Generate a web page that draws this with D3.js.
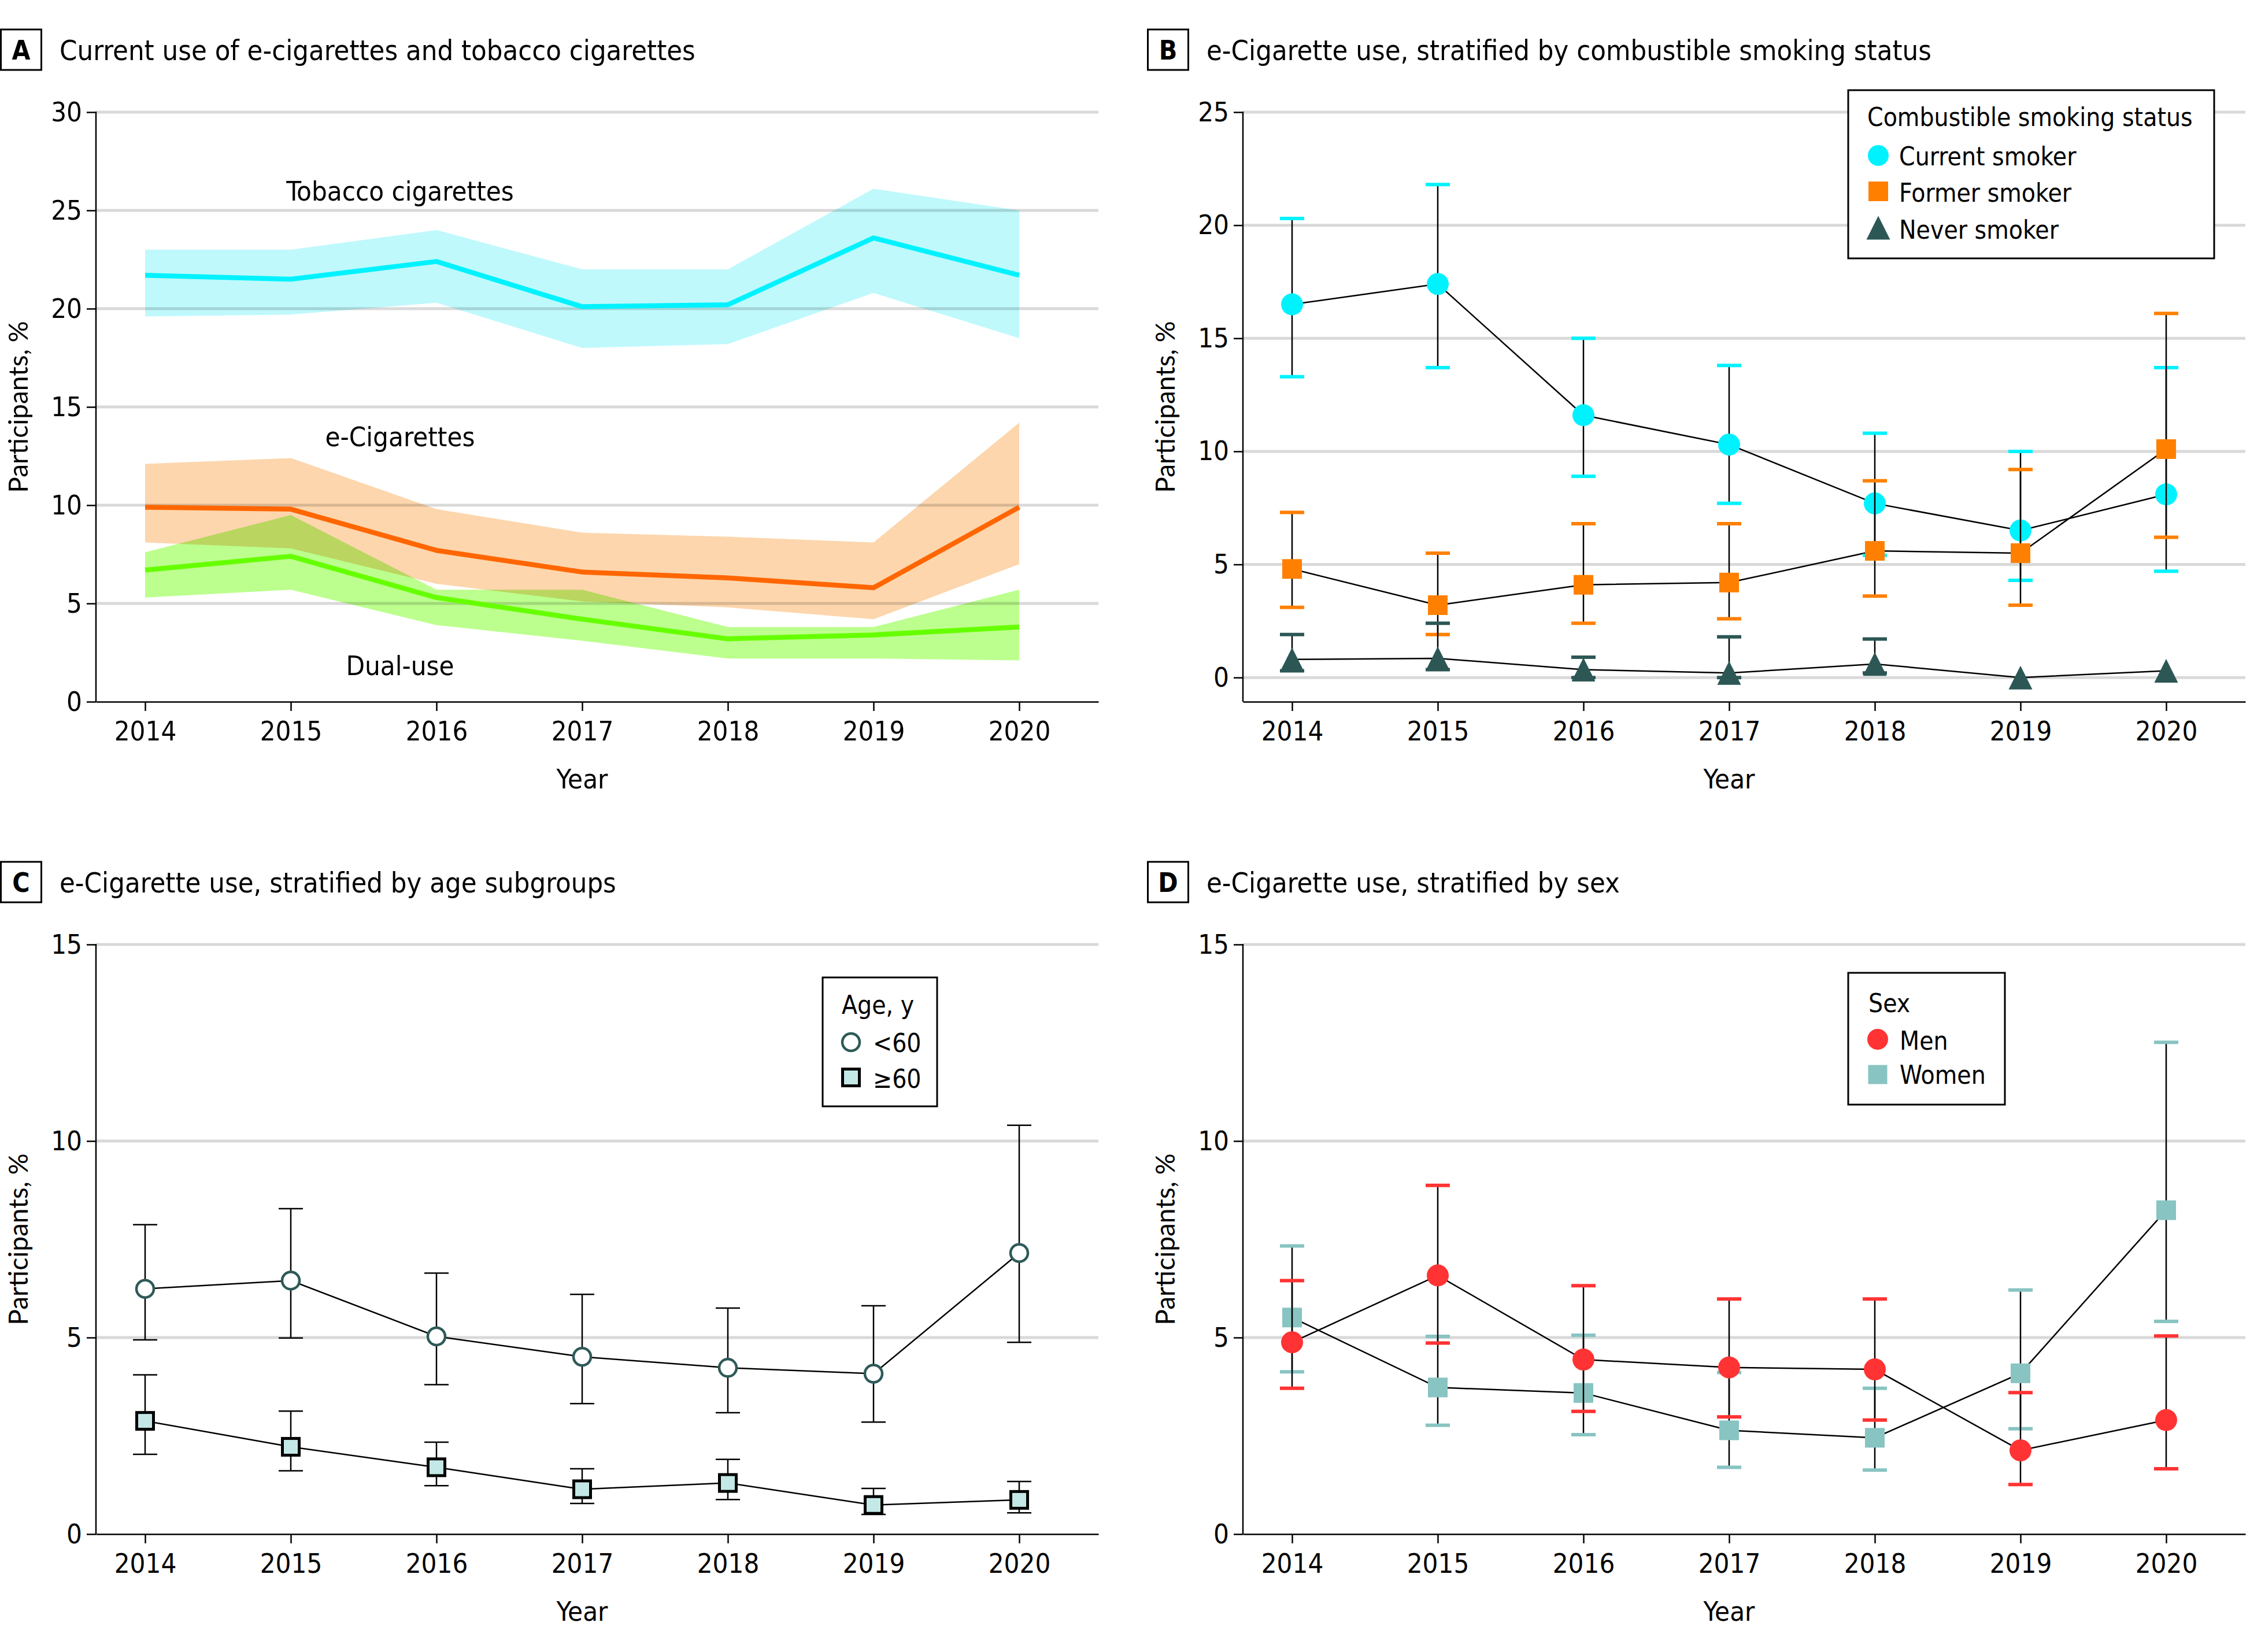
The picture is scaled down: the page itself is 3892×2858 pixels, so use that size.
<!DOCTYPE html>
<html>
<head>
<meta charset="utf-8">
<script src="https://cdn.jsdelivr.net/npm/d3@7"></script>
<style>
  body { margin: 0; background: #fff; }
  svg { display: block; }
  text { font-family: "DejaVu Sans Condensed", "DejaVu Sans", sans-serif; fill: #000; }
</style>
</head>
<body>
<script>
// years on the x axis
const years = [2014, 2015, 2016, 2017, 2018, 2019, 2020];

// A - current use, point estimate + 95% band
const tobacco   = [21.7, 21.5, 22.4, 20.1, 20.2, 23.6, 21.7];
const tobaccoLo = [19.6, 19.7, 20.3, 18.0, 18.2, 20.8, 18.5];
const tobaccoHi = [23.0, 23.0, 24.0, 22.0, 22.0, 26.1, 25.0];
const ecig      = [9.9, 9.8, 7.7, 6.6, 6.3, 5.8, 9.9];
const ecigLo    = [8.1, 7.8, 6.0, 5.1, 4.8, 4.2, 7.0];
const ecigHi    = [12.1, 12.4, 9.8, 8.6, 8.4, 8.1, 14.2];
const dual      = [6.7, 7.4, 5.3, 4.2, 3.2, 3.4, 3.8];
const dualLo    = [5.3, 5.7, 3.9, 3.1, 2.2, 2.2, 2.1];
const dualHi    = [7.6, 9.5, 5.7, 5.7, 3.8, 3.8, 5.7];

// B - by combustible smoking status
const current   = [16.5, 17.4, 11.6, 10.3, 7.7, 6.5, 8.1];
const currentLo = [13.3, 13.7, 8.9, 7.7, 5.4, 4.3, 4.7];
const currentHi = [20.3, 21.8, 15.0, 13.8, 10.8, 10.0, 13.7];
const former    = [4.8, 3.2, 4.1, 4.2, 5.6, 5.5, 10.1];
const formerLo  = [3.1, 1.9, 2.4, 2.6, 3.6, 3.2, 6.2];
const formerHi  = [7.3, 5.5, 6.8, 6.8, 8.7, 9.2, 16.1];
const never     = [0.8, 0.85, 0.35, 0.2, 0.6, 0.0, 0.3];
const neverLo   = [0.3, 0.35, 0.0, 0.0, 0.2, null, null];
const neverHi   = [1.9, 2.4, 0.9, 1.8, 1.7, null, null];

// C - by age
const under60   = [6.24, 6.45, 5.03, 4.51, 4.23, 4.08, 7.15];
const under60Lo = [4.94, 4.99, 3.80, 3.32, 3.09, 2.85, 4.88];
const under60Hi = [7.87, 8.28, 6.64, 6.10, 5.75, 5.81, 10.40];
const over60    = [2.88, 2.22, 1.70, 1.14, 1.30, 0.74, 0.87];
const over60Lo  = [2.03, 1.61, 1.23, 0.78, 0.88, 0.50, 0.54];
const over60Hi  = [4.05, 3.13, 2.34, 1.66, 1.90, 1.16, 1.34];

// D - by sex
const men       = [4.88, 6.58, 4.44, 4.24, 4.19, 2.13, 2.90];
const menLo     = [3.71, 4.86, 3.12, 2.98, 2.90, 1.26, 1.66];
const menHi     = [6.45, 8.87, 6.32, 5.98, 5.98, 3.60, 5.04];
const women     = [5.51, 3.73, 3.59, 2.64, 2.45, 4.09, 8.24];
const womenLo   = [4.13, 2.77, 2.53, 1.70, 1.63, 2.68, 5.41];
const womenHi   = [7.33, 5.03, 5.06, 4.11, 3.71, 6.21, 12.51];

const ticksA = [0, 5, 10, 15, 20, 25, 30];
const ticksB = [0, 5, 10, 15, 20, 25];
const ticksCD = [0, 5, 10, 15];

const W = 3892, H = 2858;
const svg = d3.select("body").append("svg").attr("width", W).attr("height", H);
svg.append("rect").attr("width", W).attr("height", H).attr("fill", "#fff");

// panel geometry (local coords)
const pLeft = 166, pRight = 1900, pTop = 194, pBottom = 1214;

function panel(ox, oy, letter, title, yDomain, ticks, grid0) {
  const g = svg.append("g").attr("transform", `translate(${ox},${oy})`).style("isolation", "isolate");
  const x = d3.scaleLinear().domain([2014, 2020]).range([251, 1763]);
  const y = d3.scaleLinear().domain(yDomain).range([pBottom, pTop]);
  const xa = x.copy().domain([x.invert(pLeft), x.invert(pRight)]).range([pLeft, pRight]);

  // header
  g.append("rect").attr("x", 1.5).attr("y", 51).attr("width", 70).attr("height", 70)
    .attr("fill", "none").attr("stroke", "#000").attr("stroke-width", 3);
  g.append("text").attr("x", 36.5).attr("y", 103).attr("text-anchor", "middle")
    .attr("font-size", 46).attr("font-weight", "bold").text(letter);
  g.append("text").attr("x", 103).attr("y", 104).attr("font-size", 48.5).text(title);

  // gridlines
  g.append("g").selectAll("line").data(ticks.filter(t => grid0 || t !== 0)).join("line")
    .attr("x1", pLeft).attr("x2", pRight)
    .attr("y1", d => y(d)).attr("y2", d => y(d))
    .attr("stroke", "#d9d9d9").attr("stroke-width", 5);

  // axes
  const ya = g.append("g").attr("transform", `translate(${pLeft},0)`)
    .call(d3.axisLeft(y).tickValues(ticks).tickSize(16).tickPadding(8).tickFormat(d3.format("d")));
  ya.select(".domain").remove();
  ya.selectAll("line").attr("stroke-width", 2.5);
  ya.selectAll("text").attr("font-size", 47).style("font-family", "DejaVu Sans Condensed");
  g.append("line").attr("x1", pLeft).attr("x2", pLeft).attr("y1", pTop - 1).attr("y2", pBottom)
    .attr("stroke", "#000").attr("stroke-width", 2.5);

  const xg = g.append("g").attr("transform", `translate(0,${pBottom})`)
    .call(d3.axisBottom(xa).tickValues(years).tickSize(16).tickSizeOuter(0).tickPadding(18).tickFormat(d3.format("d")));
  xg.selectAll("line, path").attr("stroke-width", 2.5);
  xg.selectAll("text").attr("font-size", 47).style("font-family", "DejaVu Sans Condensed");

  g.append("text").attr("x", x(2017)).attr("y", 1364).attr("text-anchor", "middle")
    .attr("font-size", 47).text("Year");
  g.append("text").attr("transform", `translate(48,${(pTop + pBottom) / 2}) rotate(-90)`)
    .attr("text-anchor", "middle").attr("font-size", 46)
    .style("font-family", "Lato, 'Open Sans', sans-serif")
    .text("Participants, %");
  return { g, x, y };
}

function marker(sel, shape, fill, stroke, sw, size) {
  if (shape === "circle") {
    sel.append("circle").attr("r", size).attr("fill", fill).attr("stroke", stroke).attr("stroke-width", sw);
  } else if (shape === "square") {
    sel.append("rect").attr("x", -size / 2).attr("y", -size / 2).attr("width", size).attr("height", size)
      .attr("fill", fill).attr("stroke", stroke).attr("stroke-width", sw);
  } else {
    const h = size;
    sel.append("path").attr("d", `M0,${-h / 2}L${h / 2},${h / 2}L${-h / 2},${h / 2}Z`).attr("fill", fill);
  }
}

function series(p, vals, lo, hi, o) {
  const { g, x, y } = p;
  const rows = years.map((yr, i) => ({ yr, v: vals[i], lo: lo[i], hi: hi[i] }));
  const bars = g.append("g");
  rows.filter(r => r.lo !== null).forEach(r => {
    const cx = x(r.yr);
    bars.append("line").attr("x1", cx).attr("x2", cx).attr("y1", y(r.lo)).attr("y2", y(r.hi))
      .attr("stroke", "#000").attr("stroke-width", 2.5);
    [r.lo, r.hi].forEach(c => {
      bars.append("line").attr("x1", cx - 21).attr("x2", cx + 21).attr("y1", y(c)).attr("y2", y(c))
        .attr("stroke", o.capColor).attr("stroke-width", o.capWidth);
    });
  });
  const pts = g.append("g").selectAll("g").data(rows).join("g")
    .attr("transform", r => `translate(${x(r.yr)},${y(r.v)})`);
  pts.each(function () { marker(d3.select(this), o.shape, o.fill, o.stroke, o.sw, o.size); });
}

function connector(p, vals) {
  const { g, x, y } = p;
  g.append("path").datum(vals)
    .attr("d", d3.line().x((d, i) => x(years[i])).y(d => y(d)))
    .attr("fill", "none").attr("stroke", "#000").attr("stroke-width", 2.5);
}

function legend(g, bx, by, bw, bh, title, tx, tb, items) {
  g.append("rect").attr("x", bx).attr("y", by).attr("width", bw).attr("height", bh)
    .attr("fill", "#fff").attr("stroke", "#000").attr("stroke-width", 3);
  g.append("text").attr("x", tx).attr("y", tb).attr("font-size", 44).text(title);
  items.forEach(it => {
    const m = g.append("g").attr("transform", `translate(${it.mx},${it.my})`);
    marker(m, it.shape, it.fill, it.stroke, it.sw, it.size);
    g.append("text").attr("x", it.tx).attr("y", it.ty).attr("font-size", 44).text(it.label);
  });
}

// ---------- A ----------
const pA = panel(0, 0, "A", "Current use of e-cigarettes and tobacco cigarettes", [0, 30], ticksA, false);
const bandsA = [
  [tobaccoLo, tobaccoHi, "#bff9fc"],
  [ecigLo, ecigHi, "#fdd6ad"],
  [dualLo, dualHi, "#bcff8e"]
];
bandsA.forEach(([lo, hi, col]) => {
  pA.g.append("path").datum(years.map((yr, i) => [yr, lo[i], hi[i]]))
    .attr("d", d3.area().x(d => pA.x(d[0])).y0(d => pA.y(d[1])).y1(d => pA.y(d[2])))
    .attr("fill", col).style("mix-blend-mode", "multiply");
});
[[tobacco, "#00f2ff"], [ecig, "#ff6600"], [dual, "#66ff00"]].forEach(([v, col]) => {
  pA.g.append("path").datum(v)
    .attr("d", d3.line().x((d, i) => pA.x(years[i])).y(d => pA.y(d)))
    .attr("fill", "none").attr("stroke", col).attr("stroke-width", 8.5).attr("stroke-linejoin", "round");
});
[["Tobacco cigarettes", 25.5], ["e-Cigarettes", 13.0], ["Dual-use", 1.35]].forEach(([t, v]) => {
  pA.g.append("text").attr("x", pA.x(2015.75)).attr("y", pA.y(v)).attr("text-anchor", "middle")
    .attr("font-size", 47).text(t);
});

// ---------- B ----------
const pB = panel(1984, 0, "B", "e-Cigarette use, stratified by combustible smoking status", [-1.07, 25], ticksB, true);
connector(pB, current);
connector(pB, former);
connector(pB, never);
series(pB, current, currentLo, currentHi, { capColor: "#00f2ff", capWidth: 6, shape: "circle", fill: "#00f2ff", stroke: "none", sw: 0, size: 19 });
series(pB, former, formerLo, formerHi, { capColor: "#ff8000", capWidth: 6, shape: "square", fill: "#ff8000", stroke: "none", sw: 0, size: 34 });
series(pB, never, neverLo, neverHi, { capColor: "#2c5755", capWidth: 6, shape: "triangle", fill: "#2c5755", stroke: "none", sw: 0, size: 41 });
legend(pB.g, 1213, 156, 633, 291, "Combustible smoking status", 1246, 218, [
  { shape: "circle", fill: "#00f2ff", stroke: "none", sw: 0, size: 18, mx: 1265, my: 269, tx: 1301, ty: 286, label: "Current smoker" },
  { shape: "square", fill: "#ff8000", stroke: "none", sw: 0, size: 34, mx: 1265, my: 331, tx: 1301, ty: 349, label: "Former smoker" },
  { shape: "triangle", fill: "#2c5755", stroke: "none", sw: 0, size: 41, mx: 1265, my: 394, tx: 1301, ty: 413, label: "Never smoker" }
]);

// ---------- C ----------
const pC = panel(0, 1440, "C", "e-Cigarette use, stratified by age subgroups", [0, 15], ticksCD, false);
connector(pC, under60);
connector(pC, over60);
series(pC, under60, under60Lo, under60Hi, { capColor: "#000", capWidth: 2.5, shape: "circle", fill: "#fff", stroke: "#2e5a58", sw: 4.5, size: 15 });
series(pC, over60, over60Lo, over60Hi, { capColor: "#000", capWidth: 2.5, shape: "square", fill: "#c3e8e6", stroke: "#000", sw: 5, size: 29 });
legend(pC.g, 1423, 251, 198, 223, "Age, y", 1456, 314, [
  { shape: "circle", fill: "#fff", stroke: "#2e5a58", sw: 4.5, size: 15, mx: 1472, my: 363, tx: 1510, ty: 380, label: "<60" },
  { shape: "square", fill: "#c3e8e6", stroke: "#000", sw: 5, size: 29, mx: 1472, my: 424, tx: 1510, ty: 442, label: "\u226560" }
]);

// ---------- D ----------
const pD = panel(1984, 1440, "D", "e-Cigarette use, stratified by sex", [0, 15], ticksCD, false);
connector(pD, women);
connector(pD, men);
series(pD, women, womenLo, womenHi, { capColor: "#88c4c2", capWidth: 6, shape: "square", fill: "#88c4c2", stroke: "none", sw: 0, size: 34 });
series(pD, men, menLo, menHi, { capColor: "#ff3333", capWidth: 6, shape: "circle", fill: "#ff3333", stroke: "none", sw: 0, size: 19 });
legend(pD.g, 1213, 243, 271, 228, "Sex", 1248, 311, [
  { shape: "circle", fill: "#ff3333", stroke: "none", sw: 0, size: 18, mx: 1264, my: 358, tx: 1302, ty: 376, label: "Men" },
  { shape: "square", fill: "#88c4c2", stroke: "none", sw: 0, size: 33, mx: 1264, my: 419, tx: 1302, ty: 435, label: "Women" }
]);
</script>
</body>
</html>
